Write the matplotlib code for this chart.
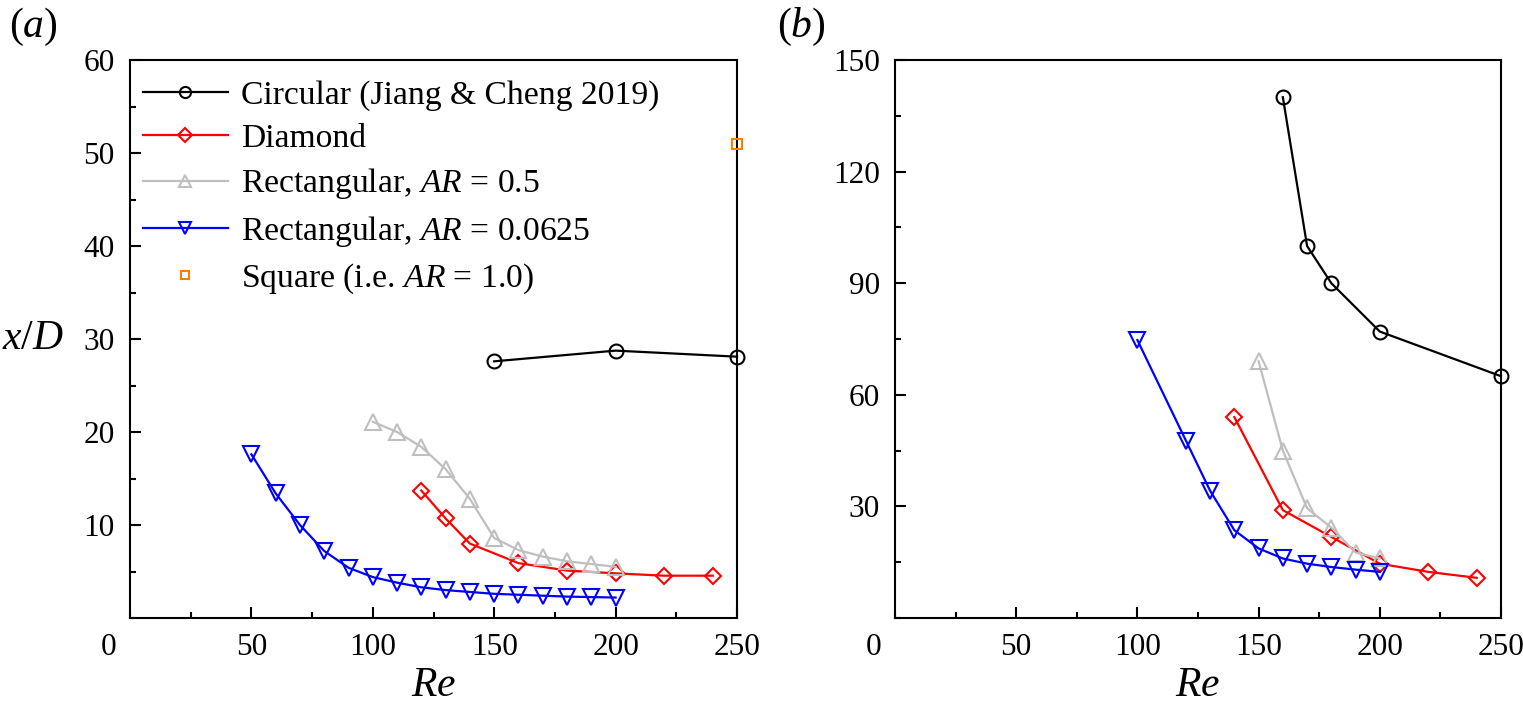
import matplotlib
matplotlib.use("Agg")
import matplotlib.pyplot as plt
from matplotlib.ticker import MultipleLocator
from matplotlib.transforms import ScaledTranslation

plt.rcParams['font.family'] = ['Liberation Serif', 'DejaVu Serif']
plt.rcParams['mathtext.fontset'] = 'custom'
plt.rcParams['mathtext.rm'] = 'Liberation Serif'
plt.rcParams['mathtext.it'] = 'Liberation Serif:italic'

# ---------------- data: panel (a) ----------------
a_circ_re = [150, 200, 250]
a_circ_y = [27.6, 28.75, 28.1]
a_dia_re = [120, 130, 140, 160, 180, 200, 220, 240]
a_dia_y = [13.7, 10.7, 8.0, 5.9, 5.1, 4.8, 4.55, 4.55]
a_r05_re = [100, 110, 120, 130, 140, 150, 160, 170, 180, 190, 200]
a_r05_y = [21.1, 20.0, 18.4, 16.0, 12.8, 8.6, 7.3, 6.6, 6.1, 5.8, 5.5]
a_r0625_re = [50, 60, 70, 80, 90, 100, 110, 120, 130, 140, 150, 160, 170, 180, 190, 200]
a_r0625_y = [17.6, 13.4, 10.0, 7.2, 5.4, 4.4, 3.8, 3.3, 3.0, 2.8, 2.6, 2.5, 2.4, 2.3, 2.25, 2.2]
a_sq_re = [250]
a_sq_y = [51.0]

# ---------------- data: panel (b) ----------------
b_circ_re = [160, 170, 180, 200, 250]
b_circ_y = [140.0, 100.0, 90.0, 77.0, 65.0]
b_dia_re = [140, 160, 180, 200, 220, 240]
b_dia_y = [54.0, 29.0, 21.8, 14.6, 12.4, 10.8]
b_r05_re = [150, 160, 170, 180, 190, 200]
b_r05_y = [69.0, 45.0, 29.5, 24.3, 17.6, 16.0]
b_r0625_re = [100, 120, 130, 140, 150, 160, 170, 180, 190, 200]
b_r0625_y = [74.7, 47.7, 34.2, 23.6, 18.7, 16.0, 14.6, 13.7, 13.0, 12.4]

labels = ['Circular (Jiang & Cheng 2019)', 'Diamond', 'Rectangular, $AR$ = 0.5',
          'Rectangular, $AR$ = 0.0625', 'Square (i.e. $AR$ = 1.0)']
xticks = [50, 100, 150, 200, 250]
a_yticks = [10, 20, 30, 40, 50, 60]
b_yticks = [30, 60, 90, 120, 150]

C_BLACK = 'black'
C_RED = '#ff0000'
C_GRAY = '#bfbfbf'
C_BLUE = '#0000ff'
C_ORANGE = '#ff8000'

fig = plt.figure(figsize=(15.23, 7.16), dpi=100)
axA = fig.add_axes([0.08536, 0.13687, 0.39856, 0.77933])
axB = fig.add_axes([0.58766, 0.13687, 0.3979, 0.77933])

lw = 1.6
mew = 1.5
TICK_FS = 22.5
LABEL_FS = 30

def style(ax, yticks, ymax, yminor):
    ax.set_xlim(0, 250)
    ax.set_ylim(0, ymax)
    ax.set_xticks(xticks)
    ax.set_xticklabels([str(t) for t in xticks])
    ax.set_yticks(yticks)
    ax.set_yticklabels([str(t) for t in yticks])
    ax.xaxis.set_minor_locator(MultipleLocator(25))
    ax.yaxis.set_minor_locator(MultipleLocator(yminor))
    ax.tick_params(which='both', direction='in', top=False, right=False,
                   width=1.5, labelsize=TICK_FS, colors='black')
    ax.tick_params(which='major', length=8)
    ax.tick_params(which='minor', length=4.3)
    ax.tick_params(axis='y', pad=11)
    ax.tick_params(axis='x', pad=11)
    for s in ax.spines.values():
        s.set_linewidth(1.5)
    trans = ax.get_xaxis_transform() + ScaledTranslation(-21 / 100, -11 / 72, fig.dpi_scale_trans)
    ax.text(0, 0, '0', fontsize=TICK_FS, ha='center', va='top', transform=trans, clip_on=False)
    ax.set_xlabel('$Re$', fontsize=LABEL_FS, labelpad=3)

def plot_series(ax, circ, dia, r05, r0625, sq=None):
    h = []
    h += ax.plot(circ[0], circ[1], '-', color=C_BLACK, lw=lw, marker='o', ms=10,
                 mfc='none', mec=C_BLACK, mew=mew, clip_on=False, zorder=3)
    h += ax.plot(dia[0], dia[1], '-', color=C_RED, lw=lw, marker='D', ms=8.5,
                 mfc='none', mec=C_RED, mew=mew, clip_on=False, zorder=3)
    h += ax.plot(r05[0], r05[1], '-', color=C_GRAY, lw=lw, marker='^', ms=11,
                 mfc='none', mec=C_GRAY, mew=mew, clip_on=False, zorder=3)
    h += ax.plot(r0625[0], r0625[1], '-', color=C_BLUE, lw=lw, marker='v', ms=11,
                 mfc='none', mec=C_BLUE, mew=mew, clip_on=False, zorder=3)
    if sq is not None:
        h += ax.plot(sq[0], sq[1], 's', color=C_ORANGE, ms=7.5, mfc='none',
                     mec=C_ORANGE, mew=mew, clip_on=False, zorder=3)
    return h

hA = plot_series(axA, (a_circ_re, a_circ_y), (a_dia_re, a_dia_y), (a_r05_re, a_r05_y),
                 (a_r0625_re, a_r0625_y), (a_sq_re, a_sq_y))
plot_series(axB, (b_circ_re, b_circ_y), (b_dia_re, b_dia_y), (b_r05_re, b_r05_y),
            (b_r0625_re, b_r0625_y))

style(axA, a_yticks, 60, 5)
style(axB, b_yticks, 150, 15)

axA.set_ylabel('$x/D$', fontsize=LABEL_FS, rotation=0, ha='right', va='center')
axA.yaxis.set_label_coords(-0.108, 0.5)

leg = axA.legend(hA, labels, loc='upper left', bbox_to_anchor=(-0.012, 1.0), frameon=False,
                 fontsize=24.2, handlelength=2.52, handletextpad=0.4,
                 labelspacing=0.37, borderaxespad=0.4, borderpad=0.2, markerscale=0.8)

fig.text(33 / 1523, 1 - 27 / 716, '($a$)', fontsize=LABEL_FS, ha='center', va='center')
fig.text(801 / 1523, 1 - 27 / 716, '($b$)', fontsize=LABEL_FS, ha='center', va='center')

fig.savefig('out.png', dpi=100)
